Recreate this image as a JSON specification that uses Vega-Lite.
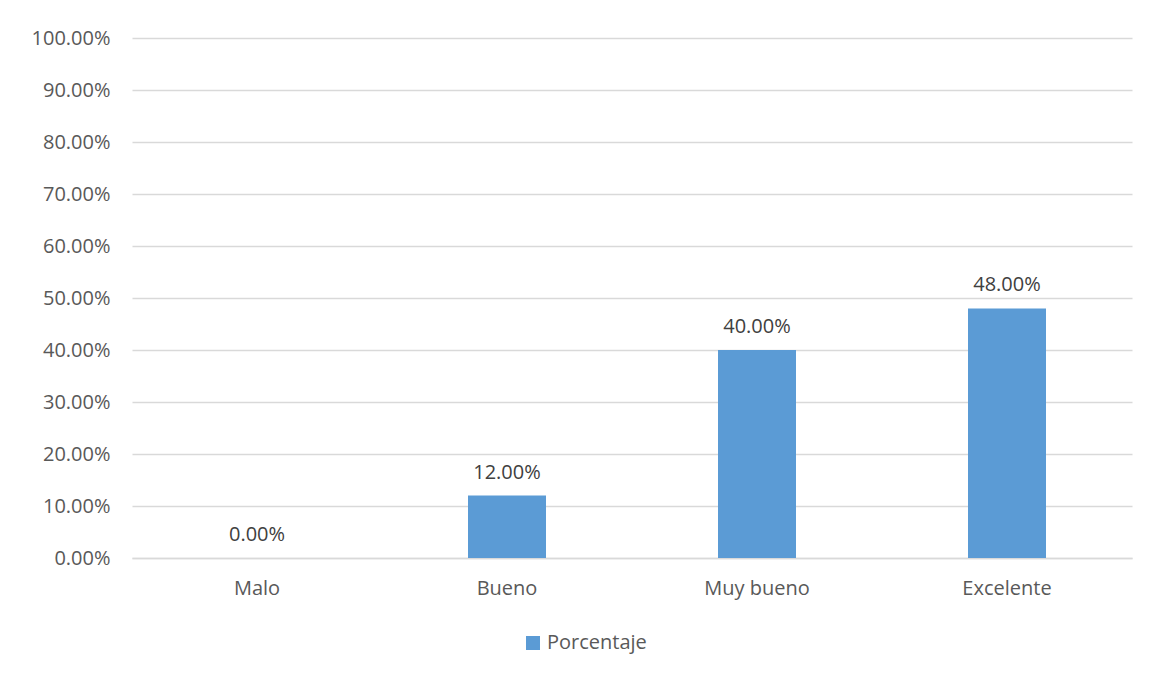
{
  "$schema": "https://vega.github.io/schema/vega-lite/v6.json",
  "width": 1000,
  "height": 520,
  "autosize": {"type": "none"},
  "padding": {"left": 132, "top": 38, "right": 18, "bottom": 117},
  "background": "white",
  "config": {
    "view": {"stroke": null},
    "font": "Open Sans"
  },
  "data": {
    "values": [
      {"categoria": "Malo", "valor": 0.0, "serie": "Porcentaje"},
      {"categoria": "Bueno", "valor": 0.12, "serie": "Porcentaje"},
      {"categoria": "Muy bueno", "valor": 0.40, "serie": "Porcentaje"},
      {"categoria": "Excelente", "valor": 0.48, "serie": "Porcentaje"}
    ]
  },
  "encoding": {
    "x": {
      "field": "categoria",
      "type": "nominal",
      "sort": null,
      "scale": {"paddingInner": 0, "paddingOuter": 0},
      "axis": {
        "title": null,
        "labelAngle": 0,
        "labelFontSize": 20,
        "labelColor": "#595959",
        "labelPadding": 20,
        "ticks": false,
        "domainColor": "#d9d9d9",
        "domainWidth": 1.5,
        "grid": false
      }
    },
    "y": {
      "field": "valor",
      "type": "quantitative",
      "scale": {"domain": [0, 1], "nice": false},
      "axis": {
        "title": null,
        "format": ".2%",
        "values": [0, 0.1, 0.2, 0.3, 0.4, 0.5, 0.6, 0.7, 0.8, 0.9, 1.0],
        "labelFontSize": 20,
        "labelColor": "#595959",
        "labelPadding": 22,
        "ticks": false,
        "domain": false,
        "gridColor": "#d9d9d9",
        "gridWidth": 1.5
      }
    }
  },
  "layer": [
    {
      "mark": {"type": "bar", "width": {"band": 0.312}},
      "encoding": {
        "color": {
          "field": "serie",
          "type": "nominal",
          "scale": {"range": ["#5b9bd5"]},
          "legend": {
            "title": null,
            "orient": "none",
            "legendX": 391,
            "legendY": 595,
            "symbolType": "square",
            "symbolSize": 196,
            "symbolStrokeWidth": 0,
            "labelFontSize": 20,
            "labelColor": "#595959",
            "labelOffset": 4
          }
        }
      }
    },
    {
      "mark": {"type": "text", "baseline": "bottom", "dy": -13, "fontSize": 20, "color": "#404040"},
      "encoding": {
        "text": {"field": "valor", "type": "quantitative", "format": ".2%"}
      }
    }
  ]
}
